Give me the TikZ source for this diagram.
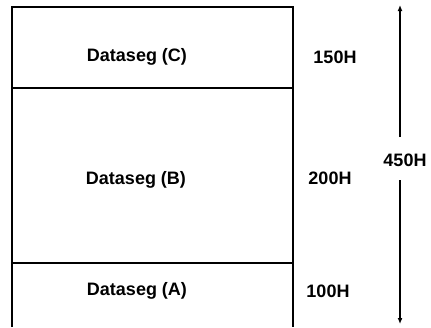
\documentclass[tikz,border=0pt]{standalone}
\usepackage{fontspec}
\setmainfont{Liberation Sans}
\usetikzlibrary{arrows.meta}
\newcommand{\segFont}[0]{\fontsize{18}{18}\selectfont\bfseries}

\begin{document}
\begin{tikzpicture}[x=1pt, y=-1pt, line width=1.2pt]
  \tikzset{seglabel/.style={font=\segFont, inner sep=0pt}}
  \useasboundingbox (0,0) rectangle (431,327);
  % memory block, open at the bottom
  \coordinate (TL) at (12,7);
  \coordinate (TR) at (293,7);
  \draw (12,327) -- (TL) -- (TR) -- (293,327);
  \draw (12,88) -- (293,88);
  \draw (12,263) -- (293,263);
  % segments and sizes
  \node[seglabel] (segC) at (137,57) {Dataseg (C)};
  \node[seglabel] (segB) at (136,180) {Dataseg (B)};
  \node[seglabel] (segA) at (137,291) {Dataseg (A)};
  \node[seglabel] (sizeC) at (335,57) {150H};
  \node[seglabel] (sizeB) at (330,178) {200H};
  \node[seglabel] (sizeA) at (328,291) {100H};
  % total size
  \node[seglabel] (total) at (405,160) {450H};
  \coordinate (top) at (400,5);
  \coordinate (bot) at (400,324);
  \draw[-{Latex[length=6pt,width=5pt]}] (400,137) -- (top);
  \draw[-{Latex[length=6pt,width=5pt]}] (400,180) -- (bot);
\end{tikzpicture}
\end{document}
